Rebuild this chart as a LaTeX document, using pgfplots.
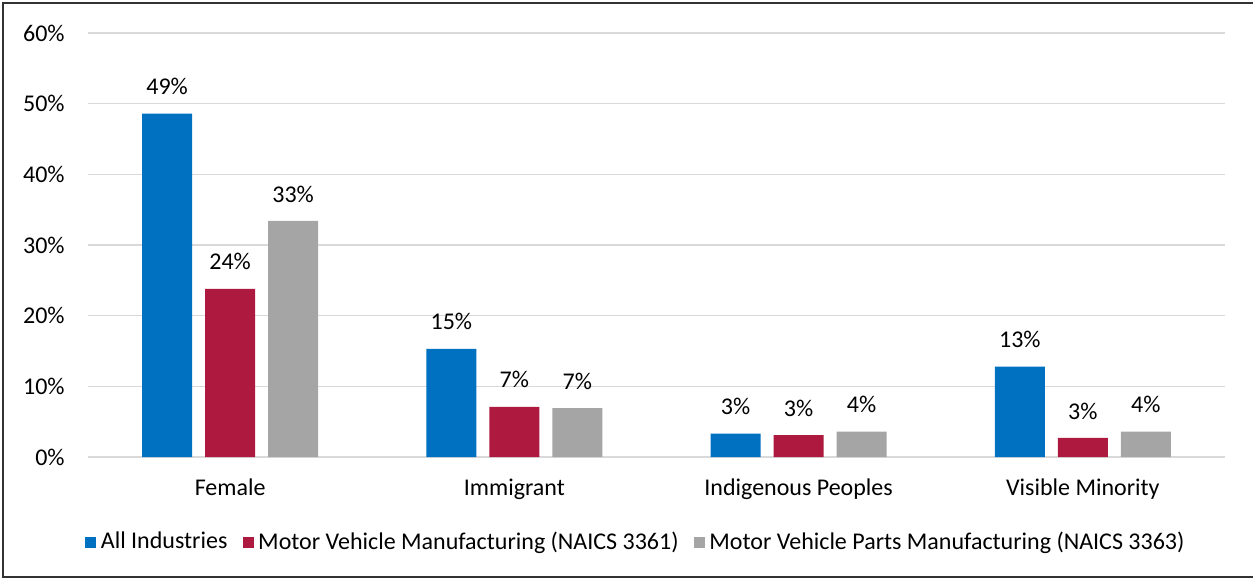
\documentclass[border=0pt]{standalone}
\usepackage{fontspec}
\setmainfont{Carlito}
\usepackage{pgfplots}
\pgfplotsset{compat=1.18}

\definecolor{cblue}{HTML}{0070C0}
\definecolor{cred}{HTML}{AE1A3F}
\definecolor{cgray}{HTML}{A5A5A5}
\definecolor{cgrid}{HTML}{D9D9D9}

\newcommand{\lbl}{\fontsize{12}{14}\selectfont}

\begin{document}
\begin{tikzpicture}
  % 1 px of the reference = 0.5pt; axis lower left at px (88,457)
  \useasboundingbox (-44pt,-61.5pt) rectangle (582.5pt,228.5pt);
  \draw[line width=0.8pt, black!80] (582.5pt,227pt) -- (-42.5pt,227pt) -- (-42.5pt,-60pt) -- (582.5pt,-60pt);
  \begin{axis}[
      at={(0pt,0pt)}, anchor=south west,
      scale only axis,
      width=568.5pt, height=212pt,
      xmin=-0.5, xmax=3.5,
      ymin=0, ymax=60,
      xtick={0,1,2,3},
      xticklabels={Female, Immigrant, Indigenous Peoples, Visible Minority},
      ytick={0,10,...,60},
      yticklabel={\pgfmathprintnumber{\tick}\%},
      /pgf/number format/assume math mode=true,
      major tick length=0pt,
      axis line style={draw=none},
      ymajorgrids,
      major grid style={cgrid, line width=0.75pt},
      xticklabel style={anchor=base, inner sep=0pt, yshift=-19pt},
      yticklabel style={anchor=east, inner sep=0pt, xshift=-11.5pt},
      tick label style={font=\lbl},
      ybar, bar width=25pt,
      nodes near coords={\pgfmathprintnumber[fixed,precision=0]{\pgfplotspointmeta}\%},
      every node near coord/.append style={anchor=center, inner sep=0pt, yshift=13.5pt,
        font=\lbl, /pgf/number format/assume math mode=true},
      legend columns=3,
      legend style={draw=none, fill=none, at={(0.483,-0.2005)}, anchor=center,
        font=\lbl,
        inner sep=0pt,
        nodes={inner sep=2.2pt},
        /tikz/every even column/.append style={column sep=5.5pt}},
      legend image code/.code={\fill[#1] (0pt,-2.75pt) rectangle (5.5pt,2.75pt);},
    ]
    \addplot[fill=cblue, draw=none, bar shift=-31.5pt] coordinates {
      (0,48.6) (1,15.3) (2,3.3) (3,12.8)
    };
    \addlegendentry{All Industries}
    \addplot[fill=cred, draw=none, bar shift=0pt] coordinates {
      (0,23.8) (1,7.1) (2,3.1) (3,2.7)
    };
    \addlegendentry{Motor Vehicle Manufacturing (NAICS 3361)}
    \addplot[fill=cgray, draw=none, bar shift=31.5pt] coordinates {
      (0,33.4) (1,6.9) (2,3.6) (3,3.6)
    };
    \addlegendentry{Motor Vehicle Parts Manufacturing (NAICS 3363)}
  \end{axis}
\end{tikzpicture}
\end{document}
